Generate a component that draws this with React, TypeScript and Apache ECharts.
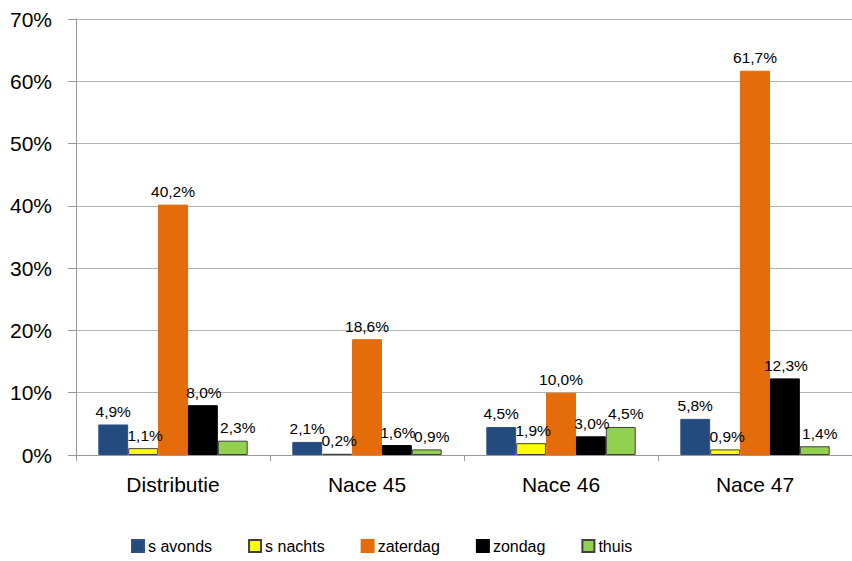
import React, { useEffect, useRef } from "react";
import * as echarts from "echarts";

const categories = ["Distributie", "Nace 45", "Nace 46", "Nace 47"];
const seriesNames = ["s avonds", "s nachts", "zaterdag", "zondag", "thuis"];
const sAvonds = [4.9, 2.1, 4.5, 5.8];
const sNachts = [1.1, 0.2, 1.9, 0.9];
const zaterdag = [40.2, 18.6, 10.0, 61.7];
const zondag = [8.0, 1.6, 3.0, 12.3];
const thuis = [2.3, 0.9, 4.5, 1.4];
const yTicks = [0, 10, 20, 30, 40, 50, 60, 70];

const colors = ["#244B7E", "#FFFF00", "#E46C0A", "#000000", "#92D050"];
const borders = ["#2f5285", "#404040", "#E46C0A", "#000000", "#404040"];
const labelShift = [0, 2, 0, 1, 5];

export default function App() {
  const ref = useRef<HTMLDivElement>(null);
  useEffect(() => {
    const chart = echarts.init(ref.current!, null, { renderer: "svg" });
    const data = [sAvonds, sNachts, zaterdag, zondag, thuis];
    const font = "Liberation Sans";
    chart.setOption({
      animation: false,
      textStyle: { fontFamily: font },
      grid: { left: 76, top: 19, width: 788, bottom: 106, containLabel: false },
      legend: {
        left: 131,
        top: 538,
        padding: 0,
        itemWidth: 12,
        itemHeight: 12,
        itemGap: 36,
        icon: "rect",
        textStyle: { fontSize: 16, color: "#000", fontFamily: font, padding: [0, 0, 0, -1] },
        data: seriesNames,
      },
      xAxis: {
        type: "category",
        data: categories,
        axisLine: { lineStyle: { color: "#999" } },
        axisTick: { show: true, length: 6, lineStyle: { color: "#999" } },
        axisLabel: { fontSize: 21, color: "#000", margin: 19, fontFamily: font },
      },
      yAxis: {
        type: "value",
        min: 0,
        max: yTicks[yTicks.length - 1],
        interval: 10,
        axisLine: { show: true, lineStyle: { color: "#999" } },
        axisTick: { show: true, length: 8, lineStyle: { color: "#999" } },
        splitLine: { lineStyle: { color: "#b3b3b3", width: 1 } },
        axisLabel: {
          fontSize: 21,
          color: "#000",
          margin: 24,
          fontFamily: font,
          formatter: (v: number) => v + "%",
        },
      },
      series: seriesNames.map((name, i) => ({
        name,
        type: "bar",
        data: data[i],
        barGap: "0%",
        barCategoryGap: "23%",
        itemStyle: { color: colors[i], borderColor: borders[i], borderWidth: 1 },
        label: {
          show: true,
          position: "top",
          distance: 5,
          offset: [labelShift[i], 0],
          fontSize: 15.5,
          color: "#000",
          fontFamily: font,
          formatter: (p: any) => p.value.toFixed(1).replace(".", ",") + "%",
        },
      })),
    });
    return () => chart.dispose();
  }, []);
  return (
    <div
      ref={ref}
      style={{ position: "fixed", left: 0, top: 0, width: 852, height: 561, background: "#fff" }}
    />
  );
}
